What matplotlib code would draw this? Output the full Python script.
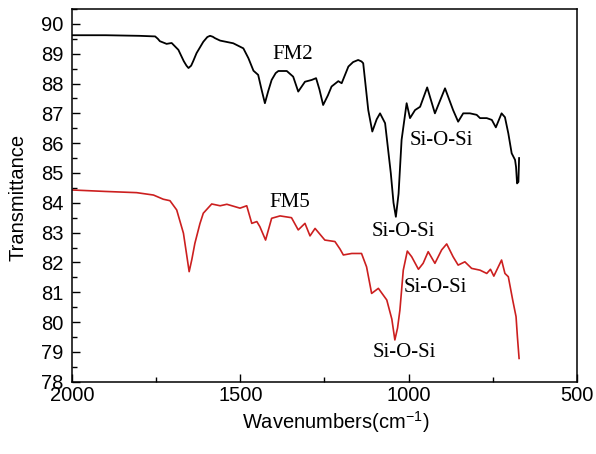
import matplotlib
matplotlib.use("Agg")
import matplotlib.pyplot as plt
from matplotlib.ticker import MultipleLocator

plt.rcParams['font.family'] = ['Liberation Sans', 'DejaVu Sans']
plt.rcParams['mathtext.fontset'] = 'custom'
plt.rcParams['mathtext.rm'] = 'Liberation Sans'
plt.rcParams['mathtext.it'] = 'Liberation Sans'

# FM2 (black)
fm2_wn = [2000, 1900, 1800, 1753, 1745, 1739, 1719, 1704, 1684, 1668, 1660, 1654, 1646, 1640, 1630,
          1610, 1598, 1590, 1582, 1575, 1560, 1521, 1491, 1476, 1461, 1447, 1437, 1427, 1417, 1407,
          1395, 1387, 1362, 1343, 1328, 1308, 1288, 1275, 1265, 1254, 1240, 1229, 1209, 1199, 1179,
          1165, 1150, 1140, 1135, 1120, 1108, 1095, 1085, 1070, 1053, 1045, 1038, 1030, 1021, 1006,
          996, 981, 966, 945, 922, 892, 868, 853, 838, 818, 798, 788, 768, 753, 741, 724, 714, 704,
          694, 684, 681, 678, 674, 672]
fm2_t = [89.62, 89.62, 89.6, 89.58, 89.5, 89.42, 89.33, 89.36, 89.13, 88.75, 88.6, 88.52, 88.6, 88.75, 89.02,
         89.4, 89.56, 89.6, 89.57, 89.52, 89.44, 89.35, 89.18, 88.85, 88.43, 88.29, 87.8, 87.34, 87.75, 88.12,
         88.35, 88.42, 88.42, 88.23, 87.73, 88.06, 88.12, 88.18, 87.8, 87.28, 87.6, 87.9, 88.08, 88.01, 88.57,
         88.72, 88.79, 88.74, 88.68, 87.11, 86.39, 86.8, 87.0, 86.67, 84.99, 84.0, 83.53, 84.3, 86.11, 87.34,
         86.84, 87.11, 87.22, 87.87, 87.0, 87.84, 87.11, 86.72, 87.0, 87.0, 86.95, 86.84, 86.84, 86.78, 86.53,
         87.0, 86.87, 86.33, 85.66, 85.44, 85.2, 84.65, 84.7, 85.5]

# FM5 (red)
fm5_wn = [2000, 1900, 1808, 1758, 1729, 1709, 1689, 1669, 1660, 1652, 1644, 1635, 1620, 1610, 1585,
          1560, 1540, 1501, 1481, 1466, 1451, 1442, 1425, 1407, 1382, 1348, 1328, 1308, 1293, 1278,
          1249, 1219, 1204, 1194, 1169, 1140, 1125, 1110, 1090, 1065, 1050, 1041, 1033, 1026, 1016,
          1004, 991, 971, 957, 942, 922, 902, 887, 868, 853, 833, 813, 788, 768, 757, 747, 724, 714,
          704, 691, 681, 677, 672]
fm5_t = [84.43, 84.38, 84.34, 84.26, 84.12, 84.07, 83.76, 82.98, 82.3, 81.69, 82.1, 82.64, 83.3, 83.65, 83.96,
         83.9, 83.95, 83.82, 83.9, 83.31, 83.37, 83.2, 82.75, 83.48, 83.56, 83.5, 83.09, 83.31, 82.89, 83.14,
         82.75, 82.7, 82.45, 82.25, 82.3, 82.3, 81.85, 80.96, 81.13, 80.74, 80.1, 79.4, 79.8, 80.4, 81.74,
         82.38, 82.19, 81.77, 81.97, 82.36, 81.97, 82.42, 82.62, 82.19, 81.91, 82.02, 81.8, 81.74, 81.63,
         81.77, 81.54, 82.08, 81.63, 81.52, 80.74, 80.18, 79.51, 78.78]

labels = ["FM2", "Si-O-Si", "Si-O-Si", "FM5", "Si-O-Si", "Si-O-Si"]
label_wn = [1344, 902, 1017, 1352, 922, 1014]
label_t = [88.96, 86.08, 83.05, 84.02, 81.16, 78.97]

x_ticks = [2000, 1500, 1000, 500]
y_ticks = list(range(78, 91))

fig = plt.figure(figsize=(5.96, 4.54), dpi=100)
ax = fig.add_axes([0.1208, 0.1593, 0.8473, 0.8209])

ax.plot(fm2_wn, fm2_t, color='black', lw=1.3)
ax.plot(fm5_wn, fm5_t, color='#cc1f1f', lw=1.2)

for s, xw, yt in zip(labels, label_wn, label_t):
    ax.text(xw, yt, s, family='Liberation Serif', fontsize=15, ha='center', va='center')

ax.set_xlim(2000, 500)
ax.set_ylim(78, 90.5)
ax.set_xticks(x_ticks)
ax.set_yticks(y_ticks)
ax.xaxis.set_minor_locator(MultipleLocator(250))
ax.yaxis.set_minor_locator(MultipleLocator(0.5))
ax.tick_params(which='major', direction='in', length=5.5, width=1, labelsize=14.5)
ax.tick_params(which='minor', direction='in', length=3.5, width=1)
ax.tick_params(axis='x', pad=3)
ax.tick_params(axis='y', pad=6)
for sp in ax.spines.values():
    sp.set_linewidth(1.1)

fig.text(336/596, 1 - 422/454, 'Wavenumbers(cm$^{-1}$)', fontsize=14.5, ha='center', va='center')
fig.text(18/596, 1 - 197/454, 'Transmittance', fontsize=14.5, ha='center', va='center', rotation=90)

fig.savefig('out.png', dpi=100)
